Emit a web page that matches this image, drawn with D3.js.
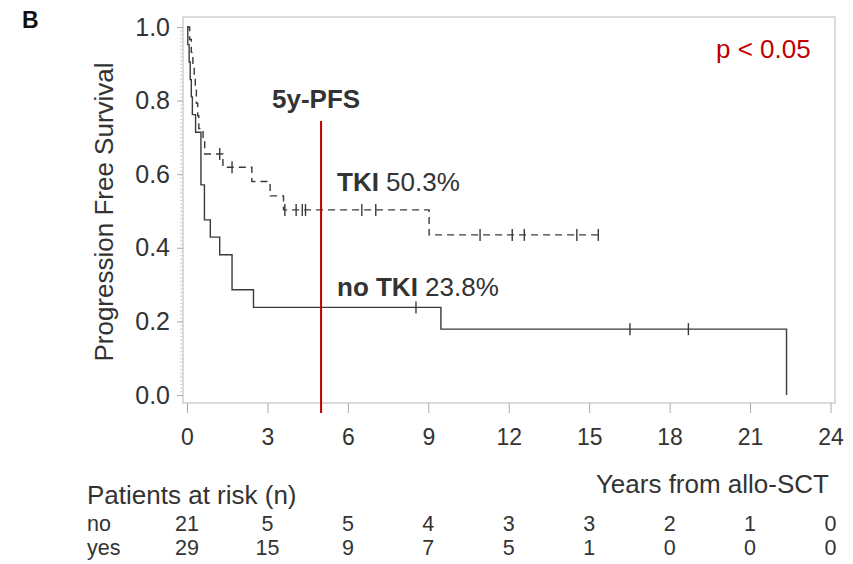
<!DOCTYPE html>
<html>
<head>
<meta charset="utf-8">
<script src="https://cdn.jsdelivr.net/npm/d3@7"></script>
<style>
  html, body { margin: 0; padding: 0; background: #fff; }
  svg { display: block; font-family: "Liberation Sans", Arial, sans-serif; }
</style>
</head>
<body>
<svg id="chart" width="853" height="564"></svg>
<script>
// Kaplan–Meier progression-free survival, TKI vs no TKI after allo-SCT

// no TKI group (solid): step times (years) and survival after each step
const noTkiTimes = [0, 0.03, 0.08, 0.12, 0.16, 0.20, 0.32, 0.52, 0.65, 0.87, 1.22, 1.68, 2.48, 9.47, 22.36];
const noTkiSurv  = [1, 0.952, 0.905, 0.857, 0.810, 0.762, 0.714, 0.571, 0.476, 0.429, 0.381, 0.286, 0.238, 0.179, 0];
const noTkiEnd = 22.36;
const noTkiCensored = [8.54, 16.52, 18.70];

// TKI group (dashed)
const tkiTimes = [0, 0.10, 0.16, 0.22, 0.27, 0.31, 0.35, 0.40, 0.44, 0.60, 0.66, 1.34, 2.42, 3.10, 3.60, 9.03];
const tkiSurv  = [1, 0.966, 0.931, 0.897, 0.862, 0.828, 0.793, 0.759, 0.724, 0.690, 0.655, 0.619, 0.580, 0.541, 0.503, 0.435];
const tkiEnd = 15.34;
const tkiCensored = [1.22, 1.68, 3.65, 4.07, 4.30, 4.42, 6.52, 7.04, 10.93, 12.13, 12.58, 14.54, 15.34];

// axis ticks
const xTicks = [0, 3, 6, 9, 12, 15, 18, 21, 24];
const yTicks = [0, 0.2, 0.4, 0.6, 0.8, 1.0];

// patients at risk at each x tick
const riskGroups = ["no", "yes"];
const riskNo  = [21, 5, 5, 4, 3, 3, 2, 1, 0];
const riskYes = [29, 15, 9, 7, 5, 1, 0, 0, 0];

// 5-year landmark and its estimates
const landmarkYear = 5;
const pfsTki = 50.3;
const pfsNoTki = 23.8;

const svg = d3.select("#chart");
const ink = "#333";
const frameColor = "#c8c8c8";

const frame = { left: 183, right: 835, top: 17, bottom: 403 };
const x = d3.scaleLinear().domain([0, 24]).range([187, 830.5]);
const y = d3.scaleLinear().domain([0, 1]).range([395, 27]);

// panel letter
svg.append("text").attr("x", 22).attr("y", 28)
  .attr("font-size", 23).attr("font-weight", "bold").attr("fill", "#111").text("B");

// plot frame
svg.append("rect")
  .attr("x", frame.left).attr("y", frame.top)
  .attr("width", frame.right - frame.left).attr("height", frame.bottom - frame.top)
  .attr("fill", "none").attr("stroke", frameColor).attr("stroke-width", 1.3);

// y axis: minor ticks every 0.01, then major ticks with labels
const yMinor = svg.append("g").attr("transform", `translate(${frame.left},0)`)
  .call(d3.axisLeft(y).tickValues(d3.range(0, 101).map(i => i / 100)).tickSize(3).tickFormat(""));
yMinor.select(".domain").remove();
yMinor.selectAll("line").attr("stroke", "#c8c8c8").attr("stroke-width", 0.8);

const yAxis = svg.append("g").attr("transform", `translate(${frame.left},0)`)
  .call(d3.axisLeft(y).tickValues(yTicks).tickSize(6).tickPadding(7).tickFormat(d3.format(".1f")));
yAxis.select(".domain").remove();
yAxis.selectAll("line").attr("stroke", "#aaa");
yAxis.selectAll("text").attr("font-size", 25).attr("fill", ink)
  .attr("font-family", "Liberation Sans, Arial, sans-serif");

// x axis
const xAxis = svg.append("g").attr("transform", `translate(0,${frame.bottom})`)
  .call(d3.axisBottom(x).tickValues(xTicks).tickSize(10).tickPadding(16));
xAxis.select(".domain").remove();
xAxis.selectAll("line").attr("stroke", "#aaa");
xAxis.selectAll("text").attr("font-size", 23).attr("fill", ink)
  .attr("font-family", "Liberation Sans, Arial, sans-serif");

// axis titles
svg.append("text")
  .attr("transform", `translate(113,212) rotate(-90)`)
  .attr("text-anchor", "middle").attr("font-size", 26).attr("fill", ink)
  .text("Progression Free Survival");

svg.append("text").attr("x", 829).attr("y", 493).attr("text-anchor", "end")
  .attr("font-size", 26).attr("fill", ink).text("Years from allo-SCT");

// survival step lines
function stepPoints(times, surv, end) {
  const pts = times.map((t, i) => [t, surv[i]]);
  if (end > times[times.length - 1]) pts.push([end, surv[surv.length - 1]]);
  return pts;
}
function survivalAt(times, surv, t) {
  let s = surv[0];
  for (let i = 0; i < times.length; i++) if (times[i] <= t) s = surv[i];
  return s;
}
const line = d3.line().x(d => x(d[0])).y(d => y(d[1])).curve(d3.curveStepAfter);

const curves = [
  { times: noTkiTimes, surv: noTkiSurv, end: noTkiEnd, cens: noTkiCensored, dash: null },
  { times: tkiTimes, surv: tkiSurv, end: tkiEnd, cens: tkiCensored, dash: "7,5" }
];

curves.forEach(c => {
  svg.append("path")
    .attr("d", line(stepPoints(c.times, c.surv, c.end)))
    .attr("fill", "none").attr("stroke", "#3a3a3a").attr("stroke-width", 1.4)
    .attr("stroke-dasharray", c.dash);
  svg.append("g").selectAll("line").data(c.cens).join("line")
    .attr("x1", d => x(d)).attr("x2", d => x(d))
    .attr("y1", d => y(survivalAt(c.times, c.surv, d)) - 6)
    .attr("y2", d => y(survivalAt(c.times, c.surv, d)) + 6)
    .attr("stroke", "#3a3a3a").attr("stroke-width", 1.4);
});

// 5-year landmark line
svg.append("line")
  .attr("x1", x(landmarkYear)).attr("x2", x(landmarkYear))
  .attr("y1", 121).attr("y2", 413)
  .attr("stroke", "#c00000").attr("stroke-width", 2);

svg.append("text").attr("x", 272).attr("y", 108)
  .attr("font-size", 26).attr("font-weight", "bold").attr("fill", ink).text("5y-PFS");

const fmtPct = d3.format(".1f");
const tkiLabel = svg.append("text").attr("x", 337).attr("y", 191).attr("font-size", 26).attr("fill", ink);
tkiLabel.append("tspan").attr("font-weight", "bold").text("TKI");
tkiLabel.append("tspan").text(" " + fmtPct(pfsTki) + "%");

const noTkiLabel = svg.append("text").attr("x", 337).attr("y", 296).attr("font-size", 26).attr("fill", ink);
noTkiLabel.append("tspan").attr("font-weight", "bold").text("no TKI");
noTkiLabel.append("tspan").text(" " + fmtPct(pfsNoTki) + "%");

// p-value
svg.append("text").attr("x", 716).attr("y", 58)
  .attr("font-size", 26).attr("fill", "#c00000").text("p < 0.05");

// patients-at-risk table
svg.append("text").attr("x", 87).attr("y", 504)
  .attr("font-size", 26).attr("fill", ink).text("Patients at risk (n)");

const riskRows = [riskNo, riskYes];
const rowY = [531, 555];
riskGroups.forEach((g, i) => {
  svg.append("text").attr("x", 87).attr("y", rowY[i])
    .attr("font-size", 21.5).attr("fill", ink).text(g);
  svg.append("g").selectAll("text").data(riskRows[i]).join("text")
    .attr("x", (d, j) => x(xTicks[j])).attr("y", rowY[i])
    .attr("text-anchor", "middle").attr("font-size", 21.5).attr("fill", ink)
    .text(d => d);
});
</script>
</body>
</html>
